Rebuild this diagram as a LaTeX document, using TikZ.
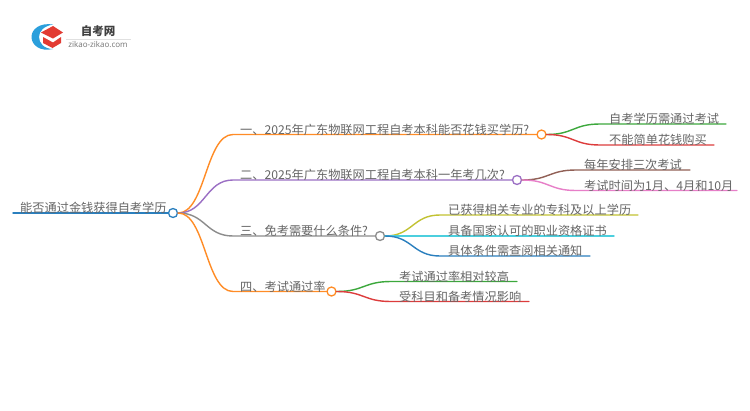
\documentclass[tikz,border=0pt]{standalone}
\usepackage{fontspec}
\usetikzlibrary{calc}
\setmainfont{Noto Sans CJK SC}
\newfontfamily\lgfont{Noto Sans CJK SC}
\newfontfamily\lgsans{Open Sans}
\definecolor{cOrange}{HTML}{FF8C26}
\definecolor{cPurple}{HTML}{9B6FC4}
\definecolor{cGray}{HTML}{8C8C8C}
\definecolor{cGreen}{HTML}{3CA83C}
\definecolor{cRed}{HTML}{DD3C3C}
\definecolor{cBrown}{HTML}{916056}
\definecolor{cPink}{HTML}{E77FC8}
\definecolor{cOlive}{HTML}{C2C232}
\definecolor{cCyan}{HTML}{4CCFDE}
\definecolor{cBlue}{HTML}{2A7FBE}
\definecolor{cText}{HTML}{666666}
\definecolor{cLogoB}{HTML}{2B9FDC}
\definecolor{cLogoR}{HTML}{E23B33}
\tikzset{
  lab/.style={anchor=south west,inner sep=0pt,text=cText,font=\fontsize{12.2}{14}\selectfont},
  dot/.style={circle,draw=#1,fill=white,line width=1.3pt,minimum size=9pt,inner sep=0pt},
  link/.style={line width=1.4pt,draw=#1,line cap=round},
}
\newcommand{\sbend}[4]{%
  \coordinate (mm) at ($(#2)!.5!(#3)$);
  \draw[link=#1] (#2) .. controls (mm |- #2) and (mm |- #3) .. (#3) -- (#4);
}
\begin{document}
\begin{tikzpicture}[x=1pt,y=-1pt]
\useasboundingbox (0,0) rectangle (750,410);
\fill[white] (0,0) rectangle (750,410);
% logo
\fill[cLogoB] (53,24.5) .. controls (40,22.5) and (31.5,29) .. (31.5,37) .. controls (31.5,45) and (40,52) .. (53,49) .. controls (44,49) and (39,43) .. (39,37) .. controls (39,31) and (44,26) .. (53,24.5) -- cycle;
\fill[cLogoR] (53,26) -- (63,32.5) -- (53,38.5) -- (41,32.5) -- cycle;
\fill[cLogoR] (43,37) -- (53,42.5) -- (61,37) -- (61,43) -- (52.5,48) -- (43,43) -- cycle;
\node[inner sep=0pt,text=black!75,font=\lgfont\bfseries\fontsize{11.5}{13}\selectfont] (logoT) at (98,31) {自考网};
\node[inner sep=0pt,text=black!55,font=\lgsans\fontsize{8}{9}\selectfont] (logoS) at (98,45) {zikao-zikao.com};
\coordinate (logoL) at (66,39);
\coordinate (logoR) at (131,39);
\draw[black!12,line width=.5pt] (logoL) -- (logoR);
% coordinates
\coordinate (r0) at (13,213);
\node[dot=cBlue] (root) at (173,213) {};
\node[dot=cOrange] (b1) at (541.5,134.5) {};
\node[dot=cPurple] (b2) at (517,180) {};
\node[dot=cGray] (b3) at (380,236) {};
\node[dot=cOrange] (b4) at (331.5,291.5) {};
\foreach \n/\x/\y in {k1/233/134.5,k2/233/180,k3/233/236,k4/233/291.5,
  l1/600/124,l1e/726/124,l2/600/145,l2e/714/145,
  l3/576/170,l3e/690/170,l4/576/190.5,l4e/737/190.5,
  l5/440/215,l5e/638/215,l6/440/236,l6e/614/236,l7/440/256,l7e/590/256,
  l8/391/281.5,l8e/517/281.5,l9/391/301.5,l9e/529/301.5}
  {\coordinate (\n) at (\x,\y);}
% connectors
\draw[link=cBlue] (r0) -- (root.west);
\sbend{cOrange}{root.east}{k1}{b1.west}
\sbend{cPurple}{root.east}{k2}{b2.west}
\sbend{cGray}{root.east}{k3}{b3.west}
\sbend{cOrange}{root.east}{k4}{b4.west}
\sbend{cGreen}{b1.east}{l1}{l1e}
\sbend{cRed}{b1.east}{l2}{l2e}
\sbend{cBrown}{b2.east}{l3}{l3e}
\sbend{cPink}{b2.east}{l4}{l4e}
\sbend{cOlive}{b3.east}{l5}{l5e}
\sbend{cCyan}{b3.east}{l6}{l6e}
\sbend{cBlue}{b3.east}{l7}{l7e}
\sbend{cGreen}{b4.east}{l8}{l8e}
\sbend{cRed}{b4.east}{l9}{l9e}
% labels
\node[lab] (t0) at (20,214) {能否通过金钱获得自考学历};
\node[lab] (t1) at (240,135.5) {一、2025年广东物联网工程自考本科能否花钱买学历?};
\node[lab] (t2) at (240,181) {二、2025年广东物联网工程自考本科一年考几次?};
\node[lab] (t3) at (240,237) {三、免考需要什么条件?};
\node[lab] (t4) at (240,292.5) {四、考试通过率};
\node[lab] (t11) at (609,125) {自考学历需通过考试};
\node[lab] (t12) at (609,146) {不能简单花钱购买};
\node[lab] (t21) at (584,171) {每年安排三次考试};
\node[lab] (t22) at (584,191.5) {考试时间为1月、4月和10月};
\node[lab] (t31) at (448,216) {已获得相关专业的专科及以上学历};
\node[lab] (t32) at (448,237) {具备国家认可的职业资格证书};
\node[lab] (t33) at (448,257) {具体条件需查阅相关通知};
\node[lab] (t41) at (399,282.5) {考试通过率相对较高};
\node[lab] (t42) at (399,302.5) {受科目和备考情况影响};
\end{tikzpicture}
\end{document}
